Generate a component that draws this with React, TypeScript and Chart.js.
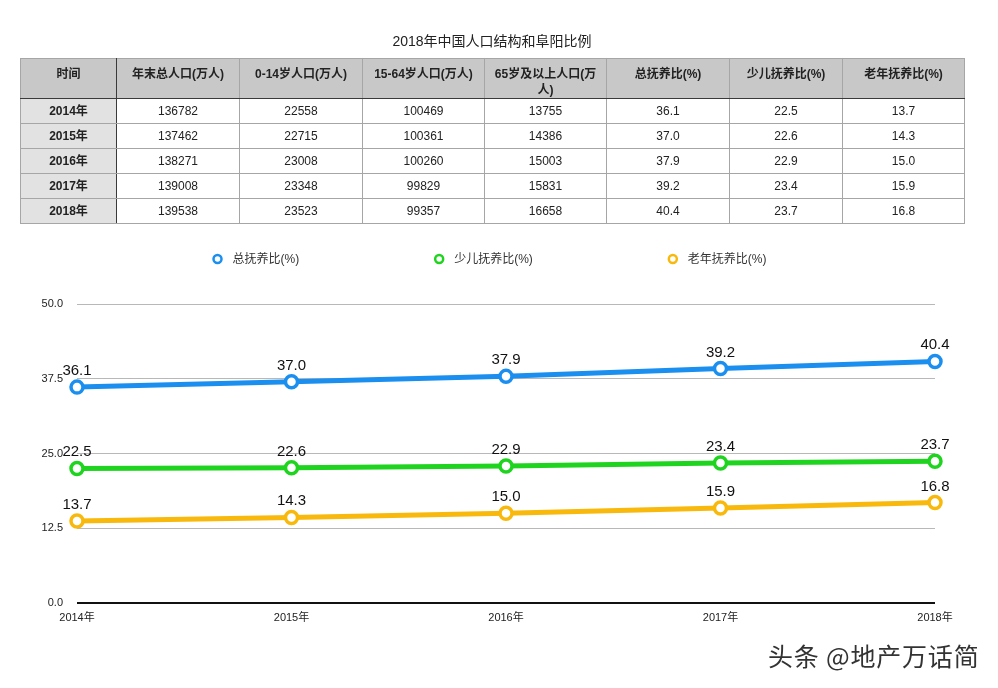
import React, { useEffect, useRef } from "react";
import { Chart, registerables } from "chart.js";

Chart.register(...registerables);

const FONT = "'Liberation Sans', 'Noto Sans CJK SC', Arial, sans-serif";

const title = "2018年中国人口结构和阜阳比例";
const tableHeaders = [
  "时间",
  "年末总人口(万人)",
  "0-14岁人口(万人)",
  "15-64岁人口(万人)",
  "65岁及以上人口(万人)",
  "总抚养比(%)",
  "少儿抚养比(%)",
  "老年抚养比(%)",
];
const years = ["2014年", "2015年", "2016年", "2017年", "2018年"];
const totalPop = [136782, 137462, 138271, 139008, 139538];
const pop0to14 = [22558, 22715, 23008, 23348, 23523];
const pop15to64 = [100469, 100361, 100260, 99829, 99357];
const pop65plus = [13755, 14386, 15003, 15831, 16658];
const totalDep = [36.1, 37.0, 37.9, 39.2, 40.4];
const childDep = [22.5, 22.6, 22.9, 23.4, 23.7];
const oldDep = [13.7, 14.3, 15.0, 15.9, 16.8];
const seriesNames = ["总抚养比(%)", "少儿抚养比(%)", "老年抚养比(%)"];
const seriesData = [totalDep, childDep, oldDep];
const seriesColors = ["#1a8ff0", "#1fd41f", "#f8b90c"];
const yTicks = [0, 12.5, 25, 37.5, 50];
const watermark = "头条 @地产万话简";

const colWidths = [96, 123, 123, 122, 122, 123, 113, 122];

const valueLabelPlugin = {
  id: "valueLabels",
  afterDatasetsDraw(chart: any) {
    const ctx = chart.ctx;
    ctx.save();
    ctx.font = `15px ${FONT}`;
    ctx.fillStyle = "#111";
    ctx.textAlign = "center";
    ctx.textBaseline = "alphabetic";
    chart.data.datasets.forEach((ds: any, i: number) => {
      const meta = chart.getDatasetMeta(i);
      meta.data.forEach((pt: any, j: number) => {
        ctx.fillText(Number(ds.data[j]).toFixed(1), pt.x, pt.y - 12);
      });
    });
    ctx.restore();
  },
};

const legendPlugin = {
  id: "customLegend",
  afterDraw(chart: any) {
    const ctx = chart.ctx;
    const opts = chart.options.plugins.customLegend;
    ctx.save();
    ctx.font = `12px ${FONT}`;
    const items = chart.data.datasets.map((ds: any) => {
      const tw = ctx.measureText(ds.label).width;
      return { ds, tw, w: 21 + tw };
    });
    const gap = opts.gap;
    const total =
      items.reduce((s: number, it: any) => s + it.w, 0) + gap * (items.length - 1);
    let x = opts.centerX - total / 2;
    const y = opts.y;
    items.forEach((it: any) => {
      const cx = x + 6;
      ctx.beginPath();
      ctx.arc(cx, y, 4, 0, Math.PI * 2);
      ctx.fillStyle = "#fff";
      ctx.fill();
      ctx.lineWidth = 2.5;
      ctx.strokeStyle = it.ds.borderColor;
      ctx.stroke();
      ctx.fillStyle = "#333";
      ctx.textAlign = "left";
      ctx.textBaseline = "middle";
      ctx.fillText(it.ds.label, cx + 15, y + 1);
      x += it.w + gap;
    });
    ctx.restore();
  },
};

export default function App() {
  const canvasRef = useRef<HTMLCanvasElement | null>(null);

  useEffect(() => {
    if (!canvasRef.current) return;
    const chart = new Chart(canvasRef.current, {
      type: "line",
      data: {
        labels: years,
        datasets: seriesNames.map((name, i) => ({
          label: name,
          data: seriesData[i],
          borderColor: seriesColors[i],
          backgroundColor: "#fff",
          pointBackgroundColor: "#fff",
          pointBorderColor: seriesColors[i],
          borderWidth: 5,
          pointRadius: 6,
          pointHoverRadius: 6,
          pointBorderWidth: 3.5,
          tension: 0,
          clip: false as any,
        })),
      },
      options: {
        responsive: false,
        animation: false,
        layout: { padding: { top: 304, right: 63, bottom: 55, left: 0 } },
        plugins: {
          legend: { display: false },
          tooltip: { enabled: false },
          title: { display: false },
          customLegend: { centerX: 489, y: 259, gap: 134 },
        } as any,
        scales: {
          x: {
            grid: { display: false, drawTicks: false },
            border: { display: false },
            ticks: {
              padding: 8,
              font: { size: 11, family: FONT },
              color: "#222",
              maxRotation: 0,
              autoSkip: false,
            },
            afterFit: (s: any) => {
              s.height = 30;
            },
          },
          y: {
            min: 0,
            max: 50,
            afterBuildTicks: (s: any) => {
              s.ticks = yTicks.map((v) => ({ value: v }));
            },
            grid: {
              color: (c: any) => (c.tick && c.tick.value === 0 ? "#111" : "#b8b8b8"),
              lineWidth: (c: any) => (c.tick && c.tick.value === 0 ? 2 : 1),
              drawTicks: false,
            },
            border: { display: false },
            ticks: {
              padding: 14,
              font: { size: 11, family: FONT },
              color: "#222",
              callback: (v: any) => Number(v).toFixed(1),
            },
            afterFit: (s: any) => {
              s.width = 77;
            },
          },
        },
      },
      plugins: [valueLabelPlugin, legendPlugin],
    });
    return () => chart.destroy();
  }, []);

  const rows = years.map((y, i) => [
    y,
    totalPop[i],
    pop0to14[i],
    pop15to64[i],
    pop65plus[i],
    totalDep[i].toFixed(1),
    childDep[i].toFixed(1),
    oldDep[i].toFixed(1),
  ]);

  const border = "1px solid #a6a6a6";
  const dark = "1px solid #3a3a3a";

  return (
    <div
      style={{
        position: "fixed",
        left: 0,
        top: 0,
        width: 998,
        height: 688,
        background: "#fff",
        fontFamily: FONT,
        overflow: "hidden",
      }}
    >
      <canvas
        ref={canvasRef}
        width={998}
        height={688}
        style={{ position: "absolute", left: 0, top: 0, display: "block" }}
      />
      <div
        style={{
          position: "absolute",
          left: 20,
          top: 31,
          width: 944,
          textAlign: "center",
          fontSize: 14,
          lineHeight: "20px",
          color: "#222",
        }}
      >
        {title}
      </div>
      <table
        style={{
          position: "absolute",
          left: 20,
          top: 58,
          width: 944,
          borderCollapse: "collapse",
          tableLayout: "fixed",
          fontSize: 12,
          color: "#222",
        }}
      >
        <colgroup>
          {colWidths.map((w, i) => (
            <col key={i} style={{ width: w }} />
          ))}
        </colgroup>
        <thead>
          <tr style={{ height: 40 }}>
            {tableHeaders.map((h, i) => (
              <th
                key={i}
                style={{
                  background: "#c8c8c8",
                  border,
                  borderBottom: dark,
                  borderRight: i === 0 ? dark : border,
                  verticalAlign: "top",
                  padding: "7px 2px 0 2px",
                  lineHeight: "16px",
                  fontWeight: "bold",
                  textAlign: "center",
                }}
              >
                {h}
              </th>
            ))}
          </tr>
        </thead>
        <tbody>
          {rows.map((r, i) => (
            <tr key={i} style={{ height: 25 }}>
              {r.map((c, j) => (
                <td
                  key={j}
                  style={{
                    background: j === 0 ? "#e2e2e2" : "#fff",
                    border,
                    borderRight: j === 0 ? dark : border,
                    textAlign: "center",
                    verticalAlign: "middle",
                    padding: 0,
                    lineHeight: "14px",
                    fontWeight: j === 0 ? "bold" : "normal",
                  }}
                >
                  {c}
                </td>
              ))}
            </tr>
          ))}
        </tbody>
      </table>
      <div
        style={{
          position: "absolute",
          left: 768,
          top: 638,
          fontSize: 25,
          letterSpacing: 0.8,
          lineHeight: "34px",
          color: "#333",
          fontFamily: "'Noto Sans CJK SC', sans-serif",
          textShadow: "1px 1px 0 #fff, -1px -1px 0 #fff",
          whiteSpace: "nowrap",
        }}
      >
        {watermark}
      </div>
    </div>
  );
}
